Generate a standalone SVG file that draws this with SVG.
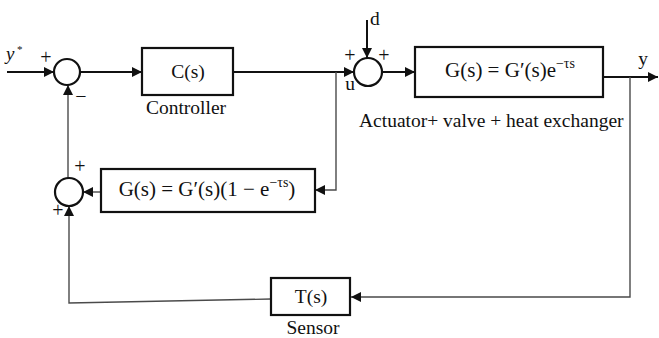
<svg xmlns="http://www.w3.org/2000/svg" width="659" height="338" viewBox="0 0 659 338">
<style>
  text { font-family: "Liberation Serif", "Times New Roman", serif; fill: #111; }
  .lbl { font-size: 19.5px; }
  .eq { font-size: 21px; }
  .sup { font-size: 14px; }
  .sign { font-size: 20px; }
  .box { fill: #fff; stroke: #111; stroke-width: 2.2; }
  .sum { fill: #fff; stroke: #111; stroke-width: 2.2; }
  .fw { fill: none; stroke: #111; stroke-width: 2; }
  .fb { fill: none; stroke: #4a4a4a; stroke-width: 1.4; }
</style>
<defs>
  <marker id="ah" viewBox="0 0 10 10" refX="10" refY="5" markerWidth="10" markerHeight="10" markerUnits="userSpaceOnUse" orient="auto">
    <path d="M0,0 L10,5 L0,10 Z" fill="#111"/>
  </marker>
</defs>

<g id="connectors">
  <line class="fw" x1="7" y1="72" x2="54" y2="72" marker-end="url(#ah)"/>
  <line class="fw" x1="80" y1="72" x2="142" y2="72" marker-end="url(#ah)"/>
  <line class="fw" x1="233" y1="72" x2="354" y2="72" marker-end="url(#ah)"/>
  <line class="fw" x1="367" y1="20" x2="367" y2="58" marker-end="url(#ah)"/>
  <line class="fw" x1="382" y1="72" x2="415" y2="72" marker-end="url(#ah)"/>
  <line class="fw" x1="603" y1="77" x2="658" y2="77" marker-end="url(#ah)"/>
  <polyline class="fb" points="630,77 630,297 351,297" marker-end="url(#ah)"/>
  <polyline class="fb" points="271,299 69,303 69,206" marker-end="url(#ah)"/>
  <polyline class="fb" points="336,72 336,190 315,190" marker-end="url(#ah)"/>
  <line class="fb" x1="101" y1="192" x2="83" y2="192" marker-end="url(#ah)"/>
  <line class="fb" x1="68" y1="178" x2="68" y2="85" marker-end="url(#ah)"/>
</g>

<g id="input">
  <text x="6" y="60" font-size="19" font-style="italic">y</text>
  <text x="17" y="53" font-size="11">*</text>
</g>

<g id="sum1">
  <circle class="sum" cx="67" cy="72" r="13"/>
  <text class="sign" x="46" y="64" text-anchor="middle">+</text>
  <text class="sign" x="81" y="103" text-anchor="middle">−</text>
</g>

<g id="controller">
  <rect class="box" x="142" y="48" width="91" height="47"/>
  <text class="lbl" x="188" y="78" text-anchor="middle">C(s)</text>
  <text class="lbl" x="186" y="114" text-anchor="middle">Controller</text>
</g>

<g id="sum2">
  <circle class="sum" cx="368" cy="72" r="14"/>
  <text class="lbl" x="370" y="25">d</text>
  <text class="sign" x="350" y="62" text-anchor="middle">+</text>
  <text class="sign" x="384" y="62" text-anchor="middle">+</text>
  <text class="lbl" x="350" y="90" text-anchor="middle">u</text>
</g>

<g id="plant">
  <rect class="box" x="415" y="47" width="188" height="50"/>
  <text class="eq" x="510" y="77" text-anchor="middle">G(s) = G′(s)e<tspan class="sup" dy="-9">−τs</tspan></text>
  <text class="lbl" x="359" y="127">Actuator+ valve + heat exchanger</text>
</g>

<g id="output">
  <text class="lbl" x="643" y="65" text-anchor="middle">y</text>
</g>

<g id="predictor">
  <rect class="box" x="101" y="169" width="214" height="43"/>
  <text class="eq" x="207" y="196" text-anchor="middle">G(s) = G′(s)(1 − e<tspan class="sup" dy="-9">−τs</tspan><tspan dy="9">)</tspan></text>
</g>

<g id="sum3">
  <circle class="sum" cx="69" cy="192" r="14"/>
  <text class="sign" x="80" y="173" text-anchor="middle">+</text>
  <text class="sign" x="58" y="217" text-anchor="middle">+</text>
</g>

<g id="sensor">
  <rect class="box" x="271" y="278" width="79" height="37"/>
  <text class="lbl" x="311" y="303" text-anchor="middle">T(s)</text>
  <text class="lbl" x="313" y="334" text-anchor="middle">Sensor</text>
</g>
</svg>
